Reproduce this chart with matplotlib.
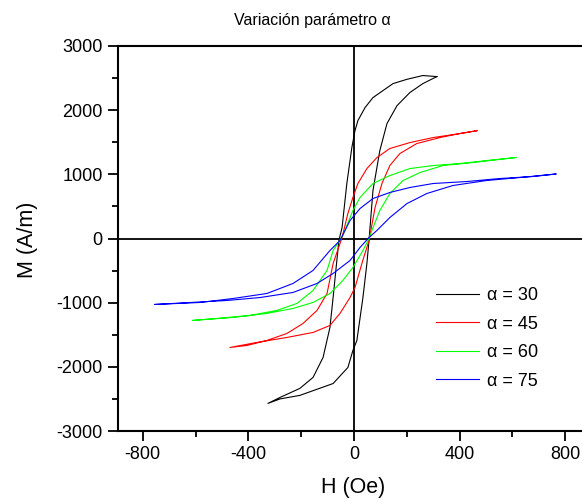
import numpy as np
import matplotlib
matplotlib.use("Agg")
import matplotlib.pyplot as plt
from matplotlib.ticker import MultipleLocator

plt.rcParams['font.family'] = ['Liberation Sans', 'DejaVu Sans']
plt.rcParams['axes.unicode_minus'] = False

# hysteresis branches: (H in Oe, M in A/m)
# "down" = branch from +Hmax to -Hmax, "up" = branch from -Hmax to +Hmax
a30_down_H = [314, 261, 200, 148, 72, 42, 15, 4, -8, -27, -45, -57, -66, -79, -91, -117, -155, -205, -280, -326]
a30_down_M = [2523, 2540, 2480, 2414, 2196, 2040, 1838, 1682, 1417, 857, 171, -30, -390, -920, -1386, -1853, -2165, -2336, -2477, -2570]
a30_up_H = [-326, -280, -205, -79, -23, -4, 11, 34, 49, 57, 72, 98, 125, 163, 212, 261, 314]
a30_up_M = [-2570, -2500, -2445, -2260, -2010, -1745, -1590, -920, -390, -30, 748, 1370, 1790, 2070, 2275, 2414, 2523]

a45_down_H = [466, 402, 300, 212, 136, 87, 49, 15, -4, -23, -45, -79, -102, -140, -193, -254, -330, -405, -470]
a45_down_M = [1680, 1636, 1573, 1495, 1402, 1262, 1090, 857, 639, 390, 16, -390, -857, -1121, -1324, -1480, -1589, -1667, -1698]
a45_up_H = [-470, -368, -254, -155, -91, -53, -15, 4, 30, 57, 80, 106, 136, 174, 238, 326, 402, 466]
a45_up_M = [-1698, -1620, -1542, -1464, -1355, -1168, -920, -763, -390, -31, 483, 857, 1137, 1324, 1480, 1573, 1636, 1680]

a60_down_H = [614, 503, 402, 300, 212, 136, 72, 23, -4, -42, -79, -102, -155, -216, -292, -394, -519, -612]
a60_down_M = [1262, 1215, 1168, 1137, 1090, 981, 857, 639, 436, 47, -187, -498, -810, -1012, -1121, -1199, -1246, -1277]
a60_up_H = [-612, -458, -330, -231, -155, -91, -42, -4, 34, 57, 68, 98, 136, 186, 250, 337, 451, 614]
a60_up_M = [-1277, -1230, -1168, -1090, -997, -857, -654, -452, -187, 0, 125, 436, 701, 903, 1028, 1137, 1184, 1262]

a75_down_H = [765, 678, 553, 428, 300, 212, 136, 72, 23, -15, -53, -91, -155, -231, -330, -458, -583, -756]
a75_down_M = [1005, 966, 935, 888, 857, 795, 717, 623, 467, 280, -31, -187, -498, -701, -857, -935, -997, -1028]
a75_up_H = [-756, -481, -356, -231, -140, -79, -15, 23, 57, 87, 136, 201, 276, 375, 503, 629, 765]
a75_up_M = [-1028, -966, -920, -841, -701, -545, -343, -140, 16, 125, 327, 545, 701, 826, 904, 950, 1005]

labels = ['α = 30', 'α = 45', 'α = 60', 'α = 75']
colors = ['black', 'red', '#00ff00', 'blue']
series = [
    (a30_down_H, a30_down_M, a30_up_H, a30_up_M),
    (a45_down_H, a45_down_M, a45_up_H, a45_up_M),
    (a60_down_H, a60_down_M, a60_up_H, a60_up_M),
    (a75_down_H, a75_down_M, a75_up_H, a75_up_M),
]

fig = plt.figure(figsize=(5.82, 5.01), dpi=100)
ax = fig.add_axes([118/582, 1 - 431/501, 1 - 118/582, (431 - 46)/501])

ax.axhline(0, color='black', lw=1.3, zorder=1)
ax.axvline(0, color='black', lw=1.3, zorder=1)

for (dh, dm, uh, um), lab, c in zip(series, labels, colors):
    H = np.concatenate([dh, uh[1:]])
    M = np.concatenate([dm, um[1:]])
    ax.plot(H, M, color=c, lw=0.8, label=lab, zorder=2)

ax.set_xlim(-894, 864)
ax.set_ylim(-3000, 3000)
ax.xaxis.set_major_locator(MultipleLocator(400))
ax.xaxis.set_minor_locator(MultipleLocator(200))
ax.yaxis.set_major_locator(MultipleLocator(1000))
ax.yaxis.set_minor_locator(MultipleLocator(500))
ax.tick_params(which='major', direction='out', length=7, width=1.3, labelsize=13, pad=4)
ax.tick_params(which='minor', direction='out', length=4, width=1.3)
ax.spines['right'].set_visible(False)
for s in ['left', 'bottom', 'top']:
    ax.spines[s].set_linewidth(1.5)

leg = ax.legend(loc='upper left', bbox_to_anchor=(436/582, 1 - 287/501),
                bbox_transform=fig.transFigure, frameon=False, borderpad=0,
                borderaxespad=0, fontsize=13, handlelength=2.4,
                handletextpad=0.45, labelspacing=0.64)

fig.text(312/582, 1 - 20/501, 'Variación parámetro α', ha='center', va='center', fontsize=11.5)
fig.text(353/582, 1 - 487/501, 'H (Oe)', ha='center', va='center', fontsize=15.5)
fig.text(27/582, 1 - 240/501, 'M (A/m)', ha='center', va='center', rotation=90, fontsize=15.5)

fig.savefig('out.png', dpi=100)
